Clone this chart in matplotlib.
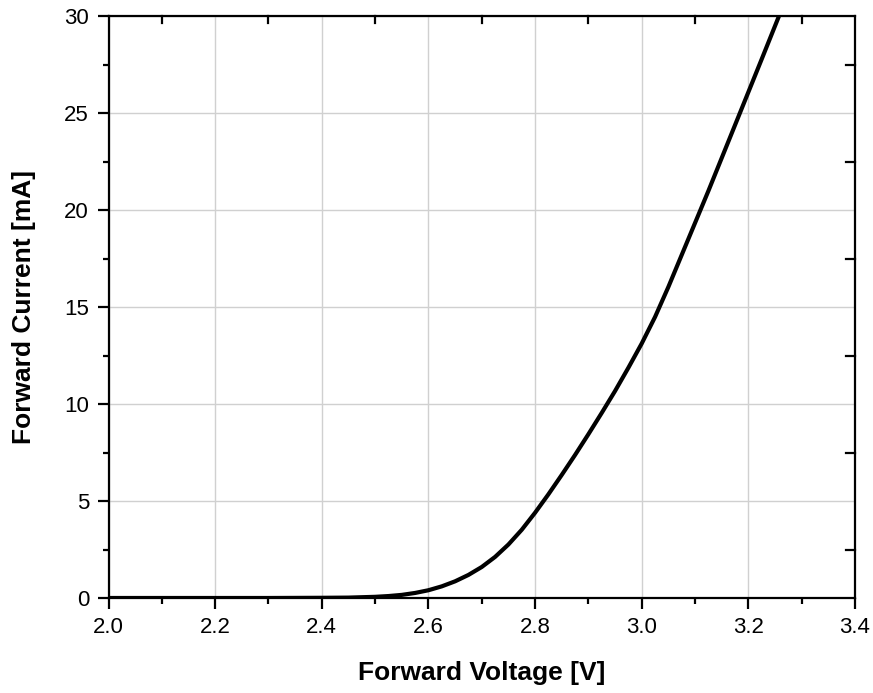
import matplotlib
matplotlib.use("Agg")
import matplotlib.pyplot as plt
from matplotlib.ticker import MultipleLocator, FormatStrFormatter

plt.rcParams['font.family'] = ['Liberation Sans', 'DejaVu Sans']

voltage = [2.0, 2.1, 2.2, 2.3, 2.4, 2.45, 2.5, 2.525, 2.55, 2.575, 2.6, 2.625, 2.65,
           2.675, 2.7, 2.725, 2.75, 2.775, 2.8, 2.825, 2.85, 2.875, 2.9, 2.925,
           2.95, 2.975, 3.0, 3.025, 3.05, 3.075, 3.1, 3.125, 3.15, 3.175, 3.2,
           3.225, 3.26]
current = [0, 0, 0, 0, 0.01, 0.02, 0.06, 0.1, 0.16, 0.26, 0.4, 0.6, 0.86,
           1.19, 1.6, 2.12, 2.76, 3.52, 4.4, 5.35, 6.35, 7.38, 8.45, 9.55,
           10.68, 11.88, 13.13, 14.5, 16.05, 17.7, 19.35, 21.0, 22.7, 24.4, 26.1,
           27.8, 30.2]

fig = plt.figure(figsize=(8.73, 6.93), dpi=100)
ax = fig.add_axes([0.1243, 0.1371, 0.9794 - 0.1243, 0.9762 - 0.1371])

ax.plot(voltage, current, color='black', lw=3.0, solid_joinstyle='round',
        solid_capstyle='butt', zorder=3)

ax.set_xlim(2.0, 3.4)
ax.set_ylim(0, 30)
ax.xaxis.set_major_locator(MultipleLocator(0.2))
ax.xaxis.set_minor_locator(MultipleLocator(0.1))
ax.yaxis.set_major_locator(MultipleLocator(5))
ax.yaxis.set_minor_locator(MultipleLocator(2.5))
ax.xaxis.set_major_formatter(FormatStrFormatter('%.1f'))

ax.grid(True, which='major', color='#d0d0d0', lw=1.0, zorder=0)
ax.set_axisbelow(True)

for s in ax.spines.values():
    s.set_linewidth(1.6)
    s.set_color('black')

ax.tick_params(which='major', direction='out', length=8, width=1.6,
               labelsize=16, top=False, right=False, pad=6)
ax.tick_params(which='minor', direction='out', length=4.5, width=1.6,
               top=False, right=False)

# inward minor ticks on top and right
for v in [2.1, 2.3, 2.5, 2.7, 2.9, 3.1, 3.3]:
    ax.plot([v, v], [30, 30 - 0.35], color='black', lw=1.6, clip_on=False, zorder=4)
for v in [2.5, 7.5, 12.5, 17.5, 22.5, 27.5]:
    ax.plot([3.4, 3.4 - 0.016], [v, v], color='black', lw=1.6, clip_on=False, zorder=4)

ax.set_xlabel('Forward Voltage [V]', fontsize=19, fontweight='bold', labelpad=16)
ax.set_ylabel('Forward Current [mA]', fontsize=19, fontweight='bold', labelpad=20)

fig.savefig('out.png', dpi=100)
